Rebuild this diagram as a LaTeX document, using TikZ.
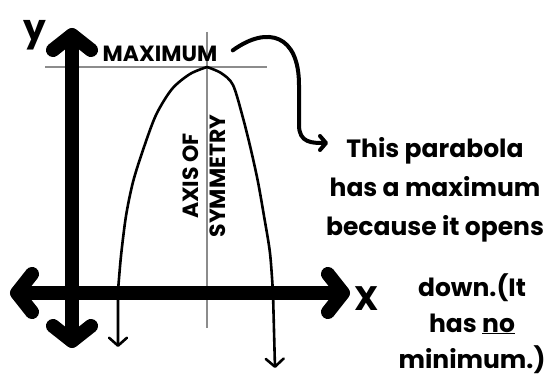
\documentclass[tikz,border=0pt]{standalone}
\usepackage{fontspec}
\setmainfont{Poppins}
\usetikzlibrary{arrows.meta,positioning}
\definecolor{guidecol}{RGB}{140,140,140}

\begin{document}
\begin{tikzpicture}[x=1pt,y=1pt,
  axisline/.style={line width=14pt,line cap=round,
    {Straight Barb[round,length=15pt,width=38pt]}-{Straight Barb[round,length=15pt,width=38pt]}},
  guide/.style={guidecol,line width=1.6pt},
  branch/.style={line width=2.6pt,line cap=round,-{Straight Barb[round,length=8pt,width=18pt]}},
  pointer/.style={line width=4pt,line cap=round,-{Straight Barb[round,length=6pt,width=14pt]}}]
  \useasboundingbox (0,0) rectangle (544,381);
  % guides through the vertex
  \coordinate (hl) at (45,314);
  \coordinate (hr) at (267,314);
  \coordinate (vt) at (207,349);
  \coordinate (vb) at (207,53);
  \draw[guide] (hl) -- (hr);
  \draw[guide] (vt) -- (vb);
  % axes
  \coordinate (yb) at (72,33);
  \coordinate (yt) at (72,353);
  \coordinate (xl) at (10,88);
  \coordinate (xr) at (350,88);
  \draw[axisline] (yb) -- (yt);
  \draw[axisline] (xl) -- (xr);
  \node[font=\bfseries\fontsize{36}{40}\selectfont] (ylbl) at (35,346) {y};
  \node[font=\bfseries\fontsize{34}{40}\selectfont] (xlbl) at (367,82) {X};
  % parabola, opening down
  \draw[branch] plot[smooth] coordinates {(207,314) (190,307) (172,292) (156,266) (143,231) (133,199) (126,165) (121,125) (118,90)} -- (118,34);
  \draw[branch] plot[smooth] coordinates {(207,314) (221,308) (233,296) (243,263) (251,231) (258,199) (264,165) (270,128) (273,88)} -- (275,13);
  % labels
  \node[font=\bfseries\fontsize{22}{30}\selectfont,anchor=base] (maxlbl) at (160,319) {MAXIMUM};
  \node[font=\bfseries\fontsize{22}{27}\selectfont,rotate=90,align=center] (axislbl) at (204,205) {AXIS OF\\SYMMETRY};
  \node[font=\bfseries\fontsize{25}{39}\selectfont,anchor=base,align=center] (note) at (435,146)
    {This parabola\\has a maximum\\because it opens};
  \node[font=\bfseries\fontsize{25}{36}\selectfont,anchor=base,align=center] (notemore) at (472,13)
    {down.(It\\has \underline{no}\\minimum.)};
  \coordinate (tip) at (328,238);
  \draw[pointer] ([xshift=12pt,yshift=4pt]maxlbl.east) .. controls (268,356) and (299,346) .. (299,296)
    -- (299,256) .. controls (299,238) and (312,238) .. (tip);
\end{tikzpicture}
\end{document}
